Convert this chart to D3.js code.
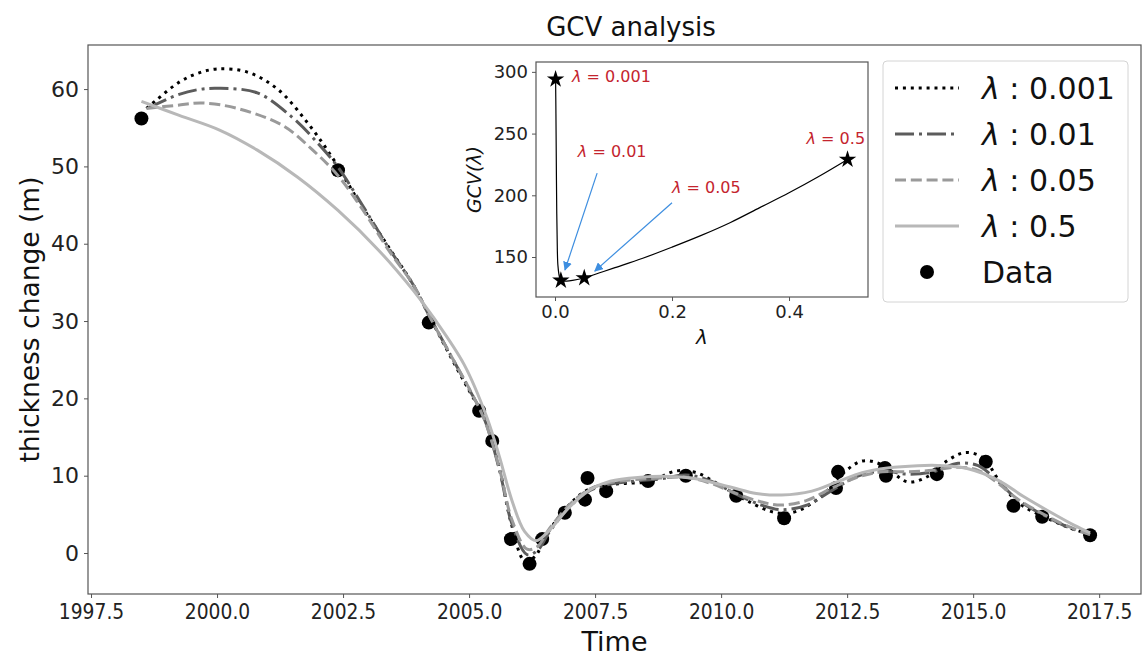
<!DOCTYPE html>
<html>
<head>
<meta charset="utf-8">
<script src="https://cdn.jsdelivr.net/npm/d3@7"></script>
<style>
  body { margin: 0; background: #fff; }
  svg { font-family: "DejaVu Sans", sans-serif; }
  .axis path, .axis line { stroke: #555; }
  .axis text { fill: #222; }
</style>
</head>
<body>
<svg id="chart" width="1143" height="658"></svg>
<script>
// observations
const dataYears = [1998.5, 2002.4, 2004.2, 2005.2, 2005.46, 2005.83, 2006.2, 2006.45, 2006.9, 2007.3,
  2007.35, 2007.72, 2008.55, 2009.3, 2010.3, 2011.25, 2012.28, 2012.32, 2013.25, 2013.27,
  2014.28, 2015.25, 2015.8, 2016.37, 2017.32];
const dataValues = [56.2, 49.5, 29.8, 18.4, 14.5, 1.8, -1.4, 1.8, 5.2, 6.9,
  9.7, 8.0, 9.3, 10.0, 7.4, 4.5, 8.4, 10.5, 11.0, 10.0,
  10.2, 11.8, 6.1, 4.7, 2.3];

// smoothing spline fits
const fit001Years = [1998.6, 1998.8, 1999.25, 1999.6, 2000.0, 2000.6, 2001.2, 2001.8, 2002.3, 2002.8, 2003.4, 2003.9,
  2004.2, 2004.6, 2005.0, 2005.3, 2005.6, 2005.85, 2006.1, 2006.3, 2006.55, 2006.9, 2007.3, 2007.7, 2008.1,
  2008.6, 2009.1, 2009.5, 2010.0, 2010.5, 2011.1, 2011.5, 2012.0, 2012.4, 2012.8, 2013.2, 2013.7, 2014.1,
  2014.5, 2014.85, 2015.2, 2015.5, 2015.9, 2016.4, 2016.9, 2017.32];
const fit001Values = [57.5, 58.6, 60.9, 62.0, 62.6, 62.2, 60.0, 55.6, 51.0, 45.6, 39.6, 34.6,
  30.8, 25.8, 21.0, 17.5, 11.0, 3.5, -1.0, -0.5, 2.5, 5.6, 8.0, 8.8, 9.0,
  9.3, 10.6, 10.4, 8.7, 6.8, 5.2, 5.4, 7.4, 10.2, 11.9, 11.4, 9.2, 9.9,
  12.0, 13.0, 12.3, 9.5, 6.5, 4.7, 3.3, 2.4];

const fit01Years = [1998.65, 1999.2, 1999.6, 2000.0, 2000.8, 2001.5, 2002.0, 2002.4, 2002.9, 2003.4, 2003.9,
  2004.2, 2004.6, 2005.0, 2005.3, 2005.6, 2005.85, 2006.15, 2006.35, 2006.6, 2007.0, 2007.4, 2007.8, 2008.3,
  2008.8, 2009.3, 2009.8, 2010.3, 2010.8, 2011.2, 2011.7, 2012.2, 2012.7, 2013.2, 2013.7, 2014.2, 2014.7,
  2015.1, 2015.5, 2015.9, 2016.4, 2016.9, 2017.32];
const fit01Values = [57.6, 59.2, 59.9, 60.1, 59.5, 56.3, 53.0, 49.9, 44.8, 39.5, 34.6,
  30.8, 26.0, 21.2, 17.4, 10.8, 3.8, -0.2, 0.3, 2.8, 6.0, 8.1, 8.9, 9.3,
  9.6, 10.1, 9.3, 7.6, 6.2, 5.6, 6.2, 8.1, 9.9, 10.6, 10.2, 10.5, 11.6,
  11.3, 9.2, 6.8, 4.9, 3.3, 2.4];

const fit05Years = [1998.6, 1999.2, 1999.7, 2000.4, 2001.3, 2001.9, 2002.4, 2002.9, 2003.4, 2003.9,
  2004.2, 2004.6, 2005.0, 2005.3, 2005.6, 2005.85, 2006.15, 2006.35, 2006.6, 2007.0, 2007.4, 2007.8, 2008.3,
  2008.8, 2009.3, 2009.8, 2010.3, 2010.8, 2011.2, 2011.7, 2012.2, 2012.7, 2013.2, 2013.7, 2014.2, 2014.7,
  2015.1, 2015.5, 2015.9, 2016.4, 2016.9, 2017.32];
const fit05Values = [57.5, 57.9, 58.2, 57.5, 55.3, 52.1, 48.8, 44.3, 39.2, 34.6,
  30.8, 26.0, 21.3, 17.3, 11.0, 4.3, 0.5, 0.8, 3.2, 6.3, 8.3, 9.1, 9.5,
  9.7, 9.8, 9.0, 7.7, 6.6, 6.2, 6.8, 8.4, 9.8, 10.5, 10.5, 10.7, 11.1,
  10.7, 9.0, 6.9, 5.0, 3.4, 2.4];

const fit5Years = [1998.5, 1999.25, 2000.05, 2000.8, 2001.6, 2002.4, 2003.2, 2003.9, 2004.3, 2004.9, 2005.35,
  2005.6, 2005.85, 2006.1, 2006.33, 2006.6, 2007.0, 2007.4, 2007.8, 2008.4, 2009.0, 2009.5, 2010.2, 2010.7,
  2011.2, 2011.8, 2012.3, 2012.8, 2013.3, 2013.9, 2014.4, 2014.9, 2015.5, 2016.0, 2016.5, 2017.0, 2017.32];
const fit5Values = [58.4, 56.6, 54.7, 52.1, 48.6, 44.3, 39.2, 33.9, 30.4, 24.4, 17.6,
  12.5, 6.8, 2.8, 1.6, 3.0, 6.0, 8.2, 9.3, 9.8, 9.9, 9.6, 8.5, 7.7,
  7.5, 8.0, 9.2, 10.4, 11.0, 11.3, 11.3, 10.9, 9.4, 7.3, 5.4, 3.6, 2.6];

const fitLabels = ['0.001', '0.01', '0.05', '0.5'];

// inset: GCV curve
const gcvLambda = [0.001, 0.0015, 0.002, 0.003, 0.004, 0.005, 0.0075, 0.01, 0.02, 0.03, 0.05, 0.075,
  0.1, 0.15, 0.2, 0.25, 0.3, 0.35, 0.4, 0.45, 0.5];
const gcvValues = [294, 270, 240, 185, 155, 143, 134, 131, 130.5, 131, 133, 137,
  141, 149, 158, 167.5, 178, 190, 202, 215, 229];
const starLambda = [0.001, 0.01, 0.05, 0.5];
const starGcv = [294, 131, 133, 229];
const noteText = ['0.001', '0.01', '0.05', '0.5'];
const noteLambda = [0.029, 0.039, 0.2, 0.43];
const noteGcv = [296, 235, 206, 245.5];
const arrowFrom = [[0.072, 218], [0.2, 194]];
const arrowTo = [[0.017, 139.5], [0.068, 138.6]];

const xTicks = d3.range(1997.5, 2018, 2.5);
const yTicks = d3.range(0, 61, 10);

const svg = d3.select('#chart');
const M = {left: 88, right: 1141, top: 45, bottom: 594};

const x = d3.scaleLinear().domain([1997.44, 2018.33]).range([M.left, M.right]);
const y = d3.scaleLinear().domain([-5.3, 65.7]).range([M.bottom, M.top]);

svg.append('text').attr('x', 631).attr('y', 36)
  .attr('text-anchor', 'middle').attr('font-size', 26).attr('fill', '#111').text('GCV analysis');

const gx = svg.append('g').attr('class', 'axis').attr('transform', 'translate(0,' + M.bottom + ')')
  .call(d3.axisBottom(x).tickValues(xTicks).tickFormat(d3.format('.1f')).tickSize(4).tickPadding(5));
const gy = svg.append('g').attr('class', 'axis').attr('transform', 'translate(' + M.left + ',0)')
  .call(d3.axisLeft(y).tickValues(yTicks).tickSize(4).tickPadding(5));
[gx, gy].forEach(g => {
  g.select('.domain').remove();
  g.selectAll('text').attr('font-size', 22).attr('font-family', 'DejaVu Sans');
});
// the x labels are narrower in the source figure
gx.selectAll('text').attr('transform', 'scale(0.85,1)');

svg.append('rect').attr('x', M.left).attr('y', M.top)
  .attr('width', M.right - M.left).attr('height', M.bottom - M.top)
  .attr('fill', 'none').attr('stroke', '#555').attr('stroke-width', 1.2);

svg.append('text').attr('x', (M.left + M.right) / 2).attr('y', 651)
  .attr('text-anchor', 'middle').attr('font-size', 27).attr('fill', '#111').text('Time');
svg.append('text').attr('transform', 'translate(39,' + ((M.top + M.bottom) / 2) + ') rotate(-90)')
  .attr('text-anchor', 'middle').attr('font-size', 26.5).attr('fill', '#111').text('thickness change (m)');

// data points (matplotlib draws scatter below lines)
svg.append('g').selectAll('circle').data(dataYears).join('circle')
  .attr('cx', (d, i) => x(d)).attr('cy', (d, i) => y(dataValues[i])).attr('r', 7).attr('fill', '#000');

const styles = [
  {color: '#000', dash: '3,4.9'},
  {color: '#5c5c5c', dash: '19,5,3,5'},
  {color: '#9a9a9a', dash: '11,4.8'},
  {color: '#b8b8b8', dash: null}
];
const fits = [
  [fit001Years, fit001Values],
  [fit01Years, fit01Values],
  [fit05Years, fit05Values],
  [fit5Years, fit5Values]
];
const line = d3.line().x(d => x(d[0])).y(d => y(d[1])).curve(d3.curveCatmullRom.alpha(0.5));
fits.forEach((f, k) => {
  const pts = f[0].map((yr, i) => [yr, f[1][i]]);
  svg.append('path').attr('d', line(pts)).attr('fill', 'none')
    .attr('stroke', styles[k].color).attr('stroke-width', 3)
    .attr('stroke-dasharray', styles[k].dash);
});

// legend
const lg = svg.append('g');
lg.append('rect').attr('x', 883).attr('y', 61).attr('width', 245).attr('height', 241).attr('rx', 4)
  .attr('fill', '#fff').attr('fill-opacity', 0.85).attr('stroke', '#d4d4d4');
fitLabels.forEach((lab, k) => {
  const yy = 88 + k * 46;
  lg.append('line').attr('x1', 895).attr('x2', 959).attr('y1', yy).attr('y2', yy)
    .attr('stroke', styles[k].color).attr('stroke-width', 3).attr('stroke-dasharray', styles[k].dash);
  const t = lg.append('text').attr('x', 982).attr('y', yy + 11).attr('font-size', 30).attr('fill', '#111');
  t.append('tspan').attr('font-style', 'italic').text('λ');
  t.append('tspan').text(' : ' + lab);
});
lg.append('circle').attr('cx', 927).attr('cy', 272).attr('r', 7).attr('fill', '#000');
lg.append('text').attr('x', 982).attr('y', 283).attr('font-size', 30).attr('fill', '#111').text('Data');

// inset axes
const I = {left: 536, right: 868, top: 62, bottom: 297};
const ix = d3.scaleLinear().domain([-0.0325, 0.535]).range([I.left, I.right]);
const iy = d3.scaleLinear().domain([117.6, 308]).range([I.bottom, I.top]);
const ins = svg.append('g');
ins.append('rect').attr('x', I.left).attr('y', I.top).attr('width', I.right - I.left)
  .attr('height', I.bottom - I.top).attr('fill', '#fff');
const igx = ins.append('g').attr('class', 'axis').attr('transform', 'translate(0,' + I.bottom + ')')
  .call(d3.axisBottom(ix).tickValues([0, 0.2, 0.4]).tickFormat(d3.format('.1f')).tickSize(4).tickPadding(4));
const igy = ins.append('g').attr('class', 'axis').attr('transform', 'translate(' + I.left + ',0)')
  .call(d3.axisLeft(iy).tickValues([150, 200, 250, 300]).tickSize(4).tickPadding(4));
[igx, igy].forEach(g => {
  g.select('.domain').remove();
  g.selectAll('text').attr('font-size', 18).attr('font-family', 'DejaVu Sans');
});
ins.append('rect').attr('x', I.left).attr('y', I.top).attr('width', I.right - I.left)
  .attr('height', I.bottom - I.top).attr('fill', 'none').attr('stroke', '#555').attr('stroke-width', 1.2);

ins.append('text').attr('x', (I.left + I.right) / 2).attr('y', 344).attr('text-anchor', 'middle')
  .attr('font-size', 20).attr('font-style', 'italic').attr('fill', '#111').text('λ');
ins.append('text').attr('transform', 'translate(481,' + ((I.top + I.bottom) / 2) + ') rotate(-90)')
  .attr('text-anchor', 'middle').attr('font-size', 19).attr('font-style', 'italic').attr('fill', '#111')
  .text('GCV(λ)');

const gline = d3.line().x(d => ix(d[0])).y(d => iy(d[1])).curve(d3.curveCatmullRom.alpha(0.5));
ins.append('path').attr('d', gline(gcvLambda.map((l, i) => [l, gcvValues[i]])))
  .attr('fill', 'none').attr('stroke', '#000').attr('stroke-width', 1.2);

ins.selectAll('path.star').data(starLambda).join('path').attr('class', 'star')
  .attr('d', d3.symbol().type(d3.symbolStar).size(95))
  .attr('transform', (d, i) => 'translate(' + ix(d) + ',' + iy(starGcv[i]) + ')')
  .attr('fill', '#000');

const defs = svg.append('defs');
defs.append('marker').attr('id', 'head').attr('viewBox', '0 0 10 10').attr('refX', 9).attr('refY', 5)
  .attr('markerWidth', 9).attr('markerHeight', 9).attr('orient', 'auto').attr('markerUnits', 'userSpaceOnUse')
  .append('path').attr('d', 'M0,0L10,5L0,10z').attr('fill', '#3d8ee0');
arrowFrom.forEach((a, i) => {
  ins.append('line').attr('x1', ix(a[0])).attr('y1', iy(a[1]))
    .attr('x2', ix(arrowTo[i][0])).attr('y2', iy(arrowTo[i][1]))
    .attr('stroke', '#3d8ee0').attr('stroke-width', 1.2).attr('marker-end', 'url(#head)');
});

noteText.forEach((s, i) => {
  const t = ins.append('text').attr('x', ix(noteLambda[i])).attr('y', iy(noteGcv[i]) + 5)
    .attr('font-size', 16).attr('fill', '#c4242e');
  t.append('tspan').attr('font-style', 'italic').text('λ');
  t.append('tspan').text(' = ' + s);
});
</script>
</body>
</html>
